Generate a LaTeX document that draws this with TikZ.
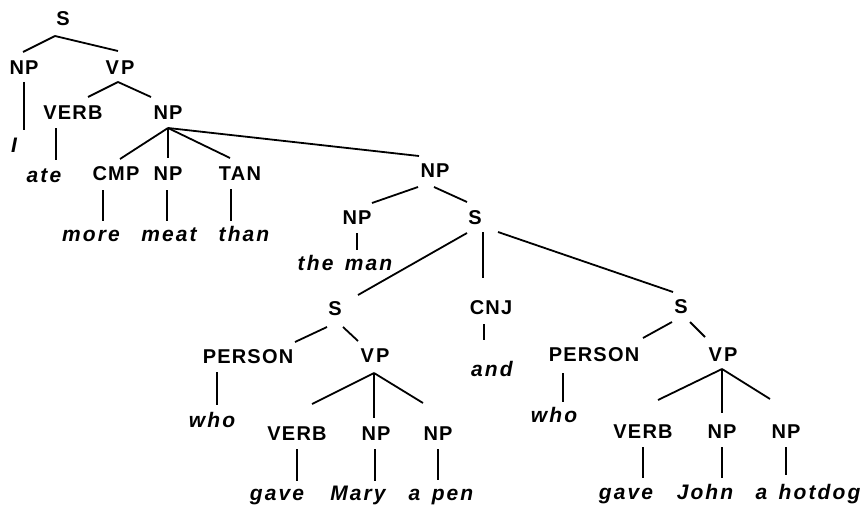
\documentclass[tikz,border=0pt]{standalone}
\usepackage{fontspec}
\newfontfamily\catfont[LetterSpace=6]{Liberation Sans}
\newfontfamily\wordfont[LetterSpace=10]{Liberation Sans}
\tikzset{
  cat/.style={font=\catfont\bfseries\fontsize{20}{24}\selectfont, inner sep=0pt,
              text height=14.3pt, text depth=0pt, anchor=center},
  word/.style={font=\wordfont\bfseries\itshape\fontsize{21}{25}\selectfont, inner sep=0pt,
               anchor=base},
  branch/.style={line width=1.8pt}
}
\begin{document}
\begin{tikzpicture}[x=1pt,y=-1pt]
\useasboundingbox (0,0) rectangle (861,508);

% category labels
\node[cat] (s1)    at (63,18)   {S};
\node[cat] (np1)   at (24,67)   {NP};
\node[cat] (vp1)   at (120,67)  {V\kern2pt P};
\node[cat] (verb1) at (73,112)  {VERB};
\node[cat] (np2)   at (168,112) {NP};
\node[cat] (cmp)   at (116,173) {CMP};
\node[cat] (np3)   at (168,173) {NP};
\node[cat] (tan)   at (240,173) {TAN};
\node[cat] (np4)   at (435,170) {NP};
\node[cat] (np5)   at (357,217) {NP};
\node[cat] (s2)    at (475,217) {S};
\node[cat] (s3)    at (335,308) {S};
\node[cat] (cnj)   at (491,307) {CNJ};
\node[cat] (s4)    at (681,306) {S};
\node[cat] (per1)  at (248,356) {PERSON};
\node[cat] (vp2)   at (375,355) {V\kern2pt P};
\node[cat] (per2)  at (594,354) {PERSON};
\node[cat] (vp3)   at (723,354) {V\kern2pt P};
\node[cat] (verb2) at (297,433) {VERB};
\node[cat] (np6)   at (376,433) {NP};
\node[cat] (np7)   at (438,433) {NP};
\node[cat] (verb3) at (643,431) {VERB};
\node[cat] (np8)   at (722,431) {NP};
\node[cat] (np9)   at (786,431) {NP};

% words
\node[word] (wI)     at (14,152)  {I};
\node[word] (wate)   at (44,182)  {ate};
\node[word] (wmore)  at (91,241)  {more};
\node[word] (wmeat)  at (169,241) {meat};
\node[word] (wthan)  at (244,241) {than};
\node[word] (wman)   at (345,270) {the\, man};
\node[word] (wand)   at (492,376) {and};
\node[word] (who1)   at (212,427) {who};
\node[word] (who2)   at (554,422) {who};
\node[word] (gave1)  at (277,500) {gave};
\node[word] (mary)   at (358,500) {Mary};
\node[word] (pen)    at (441,500) {a\, pen};
\node[word] (gave2)  at (626,499) {gave};
\node[word] (john)   at (705,499) {John};
\node[word] (hotdog) at (808,499) {a\, hotdog};

% branches
\draw[branch] ([shift={(-8,18)}]s1.center) -- ([shift={(-1,-15)}]np1.center);
\draw[branch] ([shift={(-8,18)}]s1.center) -- ([shift={(-2,-16)}]vp1.center);
\draw[branch] ([shift={(0,15)}]np1.center) -- ([shift={(10,-22)}]wI.base);
\draw[branch] ([shift={(-2,15)}]vp1.center) -- ([shift={(15,-15)}]verb1.center);
\draw[branch] ([shift={(-2,15)}]vp1.center) -- ([shift={(-17,-15)}]np2.center);
\draw[branch] ([shift={(-17,16)}]verb1.center) -- ([shift={(12,-22)}]wate.base);
\draw[branch] ([shift={(0,16)}]np2.center) -- ([shift={(4,-14)}]cmp.center);
\draw[branch] ([shift={(0,16)}]np2.center) -- ([shift={(0,-15)}]np3.center);
\draw[branch] ([shift={(0,16)}]np2.center) -- ([shift={(-10,-15)}]tan.center);
\draw[branch] ([shift={(0,16)}]np2.center) -- ([shift={(-16,-14)}]np4.center);
\draw[branch] ([shift={(-13,17)}]cmp.center) -- ([shift={(12,-20)}]wmore.base);
\draw[branch] ([shift={(-1,17)}]np3.center) -- ([shift={(-2,-20)}]wmeat.base);
\draw[branch] ([shift={(-9,16)}]tan.center) -- ([shift={(-13,-20)}]wthan.base);
\draw[branch] ([shift={(-17,17)}]np4.center) -- ([shift={(15,-14)}]np5.center);
\draw[branch] ([shift={(-1,17)}]np4.center) -- ([shift={(-8,-15)}]s2.center);
\draw[branch] ([shift={(0,16)}]np5.center) -- ([shift={(12,-20)}]wman.base);
\draw[branch] ([shift={(-8,16)}]s2.center) -- ([shift={(23,-13)}]s3.center);
\draw[branch] ([shift={(8,15)}]s2.center) -- ([shift={(-8,-29)}]cnj.center);
\draw[branch] ([shift={(23,15)}]s2.center) -- ([shift={(-8,-14)}]s4.center);
\draw[branch] ([shift={(-8,19)}]s3.center) -- ([shift={(47,-14)}]per1.center);
\draw[branch] ([shift={(8,19)}]s3.center) -- ([shift={(-17,-14)}]vp2.center);
\draw[branch] ([shift={(-7,17)}]cnj.center) -- ([shift={(-8,-36)}]wand.base);
\draw[branch] ([shift={(-31,16)}]per1.center) -- ([shift={(5,-22)}]who1.base);
\draw[branch] ([shift={(-1,18)}]vp2.center) -- ([shift={(15,-29)}]verb2.center);
\draw[branch] ([shift={(-1,18)}]vp2.center) -- ([shift={(-2,-15)}]np6.center);
\draw[branch] ([shift={(-1,18)}]vp2.center) -- ([shift={(-15,-30)}]np7.center);
\draw[branch] ([shift={(0,16)}]verb2.center) -- ([shift={(20,-19)}]gave1.base);
\draw[branch] ([shift={(-1,16)}]np6.center) -- ([shift={(17,-19)}]mary.base);
\draw[branch] ([shift={(0,16)}]np7.center) -- ([shift={(-3,-20)}]pen.base);
\draw[branch] ([shift={(-9,16)}]s4.center) -- ([shift={(49,-16)}]per2.center);
\draw[branch] ([shift={(9,16)}]s4.center) -- ([shift={(-18,-17)}]vp3.center);
\draw[branch] ([shift={(-31,19)}]per2.center) -- ([shift={(9,-20)}]who2.base);
\draw[branch] ([shift={(-1,15)}]vp3.center) -- ([shift={(15,-31)}]verb3.center);
\draw[branch] ([shift={(-1,15)}]vp3.center) -- ([shift={(0,-18)}]np8.center);
\draw[branch] ([shift={(-1,15)}]vp3.center) -- ([shift={(-16,-32)}]np9.center);
\draw[branch] ([shift={(0,16)}]verb3.center) -- ([shift={(17,-21)}]gave2.base);
\draw[branch] ([shift={(0,16)}]np8.center) -- ([shift={(17,-21)}]john.base);
\draw[branch] ([shift={(0,16)}]np9.center) -- ([shift={(-22,-24)}]hotdog.base);
\end{tikzpicture}
\end{document}
